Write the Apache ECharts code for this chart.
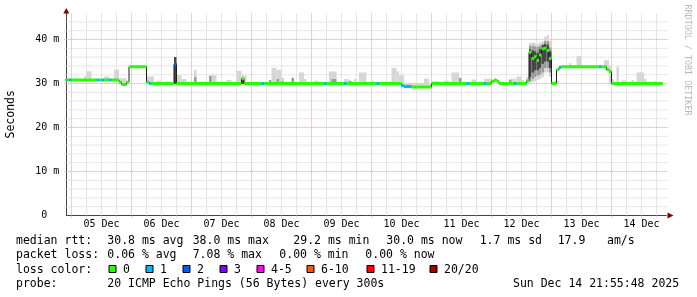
<!DOCTYPE html>
<html><head><meta charset="utf-8">
<script src="https://cdn.jsdelivr.net/npm/echarts@6/dist/echarts.min.js"></script>
<style>html,body{margin:0;padding:0;background:#fff}#c{width:697px;height:297px}</style>
</head><body><div id="c"></div>
<script>
// ---- data (times are December 2025, "MM-DD HH:MM[:SS]") ----
const graphStart = "12-04 21:55:48";
const graphEnd = "12-14 21:55:48";
const dataEnd = "12-14 20:30";
const dayLabels = ["05 Dec","06 Dec","07 Dec","08 Dec","09 Dec","10 Dec","11 Dec","12 Dec","13 Dec","14 Dec"];
const dayLabelTimes = ["12-05 12:00","12-06 12:00","12-07 12:00","12-08 12:00","12-09 12:00","12-10 12:00","12-11 12:00","12-12 12:00","12-13 12:00","12-14 12:00"];
const yMax = 46;
const yInterval = 10;
const lossColors = ['#26ff00','#00b8ff','#0059ff','#7e00ff','#ff00ff','#ff5500','#ff0000','#a10000'];
const lossLabels = ['0','1','2','3','4-5','6-10','11-19','20/20'];
// median rtt runs: [start, ms, loss class index]
const medianRuns = [
 ["12-04 21:00",30.8,0],["12-04 23:00",30.8,1],["12-05 00:00",30.8,0],["12-05 10:00",30.8,1],
 ["12-05 11:00",30.8,0],["12-05 12:00",30.8,1],["12-05 13:00",30.8,0],["12-05 15:00",30.8,1],
 ["12-05 16:00",30.8,0],["12-05 19:00",30.3,0],["12-05 20:00",29.8,0],["12-05 22:00",30.3,0],
 ["12-05 23:00",33.8,0],["12-06 06:00",30.3,0],["12-06 07:00",30.0,1],["12-06 08:00",30.0,0],
 ["12-06 17:00",34.4,2],["12-06 18:00",30.0,0],["12-07 20:00",31.1,0],["12-07 21:00",30.0,0],
 ["12-08 04:00",30.0,1],["12-08 05:00",30.0,0],["12-09 05:00",30.0,1],["12-09 06:00",30.0,0],
 ["12-09 13:00",30.0,1],["12-09 14:00",30.0,0],["12-10 02:00",30.0,1],["12-10 03:00",30.0,0],
 ["12-10 12:00",29.5,1],["12-10 13:00",29.3,1],["12-10 16:00",29.2,0],["12-11 00:00",30.0,0],
 ["12-11 14:00",30.0,1],["12-11 15:00",30.0,0],["12-11 21:00",30.0,1],["12-11 22:00",30.0,0],
 ["12-12 00:00",30.5,0],["12-12 01:00",30.8,0],["12-12 02:00",30.5,0],["12-12 03:00",30.0,0],
 ["12-12 09:00",30.0,1],["12-12 10:00",30.0,0],["12-12 14:00",30.6,0],["12-12 15:00",37.1,0],
 ["12-12 16:00",35.7,0],["12-12 17:00",36.1,0],["12-12 18:00",35.3,0],["12-12 19:00",36.5,0],
 ["12-12 20:00",37.9,0],["12-12 21:00",38.0,0],["12-12 22:00",37.5,0],["12-12 23:00",35.7,0],
 ["12-13 00:00",30.0,0],["12-13 02:00",33.1,0],["12-13 03:00",33.7,1],["12-13 04:00",33.8,0],
 ["12-13 19:00",33.8,1],["12-13 20:00",33.8,0],["12-13 22:00",33.1,0],["12-13 23:00",32.7,0],
 ["12-14 00:00",30.0,0]
];
// smoke: [start, hours, low ms, high ms, shade 0=light 1=mid 2=dark]
const smoke = [
 ["12-04 23:00",2,30.8,31.1,0],["12-05 05:00",1,30.8,31.7,0],["12-05 06:00",2,30.8,32.8,0],
 ["12-05 13:00",2,30.8,31.6,0],["12-05 17:00",2,30.8,33.2,0],["12-05 19:00",3,29.9,31.2,0],
 ["12-06 03:00",2,33.8,34.2,0],["12-06 06:00",3,30.0,31.6,0],["12-06 10:00",2,30.0,30.6,0],
 ["12-06 17:00",1,29.9,36.0,2],["12-06 18:00",2,30.0,31.9,0],["12-06 20:00",2,30.0,31.0,0],
 ["12-07 01:00",1,30.0,33.1,0],["12-07 01:00",1,30.0,31.5,1],["12-07 07:00",3,30.0,31.9,0],
 ["12-07 07:00",1,30.0,31.7,1],["12-07 14:00",2,30.0,30.8,0],["12-07 18:00",2,30.0,32.9,0],
 ["12-07 20:00",2,30.0,31.9,0],["12-07 20:00",1,29.9,30.8,2],["12-08 07:00",1,30.0,30.8,1],
 ["12-08 08:00",2,30.0,33.6,0],["12-08 10:00",2,30.0,33.1,0],["12-08 10:00",1,30.0,31.0,1],
 ["12-08 12:00",1,30.0,31.3,0],["12-08 12:00",1,30.0,30.5,1],["12-08 16:00",1,30.0,31.3,1],
 ["12-08 19:00",2,30.0,32.5,0],["12-08 21:00",1,30.0,31.0,0],["12-09 01:00",2,30.0,30.6,0],
 ["12-09 07:00",3,30.0,32.7,0],["12-09 08:00",2,30.0,31.0,1],["12-09 13:00",2,30.0,31.0,0],
 ["12-09 15:00",1,30.0,30.6,1],["12-09 17:00",1,30.0,31.0,0],["12-09 19:00",3,30.0,32.5,0],
 ["12-10 00:00",1,30.0,30.6,0],["12-10 08:00",2,30.0,33.6,0],["12-10 10:00",1,30.0,32.8,0],
 ["12-10 11:00",2,29.5,31.9,0],["12-10 12:00",12,29.2,30.0,0],["12-10 21:00",2,29.3,31.1,0],
 ["12-11 00:00",3,30.0,30.5,0],["12-11 05:00",2,30.0,30.6,0],["12-11 08:00",3,30.0,32.5,0],
 ["12-11 11:00",1,30.0,31.3,1],["12-11 16:00",2,30.0,30.9,0],["12-11 21:00",3,30.0,31.1,0],
 ["12-12 07:00",3,30.0,31.1,0],["12-12 07:00",1,30.0,30.8,1],["12-12 10:00",2,30.0,31.6,0],
 ["12-12 12:00",1,30.0,30.8,0],["12-12 14:00",1,30.0,31.5,0],
 ["12-12 15:00",1,30.0,39.2,0],["12-12 15:00",1,30.5,38.6,1],["12-12 15:00",1,31.5,37.8,2],
 ["12-12 16:00",1,30.3,39.3,0],["12-12 16:00",1,31.0,38.6,1],["12-12 16:00",1,32.5,37.5,2],
 ["12-12 17:00",1,30.5,39.2,0],["12-12 17:00",1,31.5,38.4,1],["12-12 17:00",1,33.0,37.3,2],
 ["12-12 18:00",1,30.8,39.0,0],["12-12 18:00",1,31.8,38.3,1],["12-12 18:00",1,33.0,37.0,2],
 ["12-12 19:00",1,31.0,39.3,0],["12-12 19:00",1,32.0,38.5,1],["12-12 19:00",1,33.5,37.8,2],
 ["12-12 20:00",1,31.5,39.6,0],["12-12 20:00",1,32.5,39.0,1],["12-12 20:00",1,34.5,38.7,2],
 ["12-12 21:00",1,32.5,40.6,0],["12-12 21:00",1,33.5,39.6,1],["12-12 21:00",1,35.0,39.0,2],
 ["12-12 22:00",1,32.5,41.0,0],["12-12 22:00",1,33.5,39.6,1],["12-12 22:00",1,35.0,38.8,2],
 ["12-12 23:00",1,31.5,39.6,0],["12-12 23:00",1,32.5,38.2,1],["12-12 23:00",1,33.5,37.3,2],
 ["12-13 01:00",2,30.0,30.6,0],["12-13 07:00",1,33.8,34.6,0],["12-13 10:00",2,33.8,36.2,0],
 ["12-13 21:00",2,33.0,35.3,0],["12-13 23:00",1,30.0,34.0,0],["12-14 00:00",1,30.0,31.0,0],
 ["12-14 02:00",1,30.0,33.8,0],["12-14 04:00",2,30.0,30.7,0],["12-14 08:00",1,30.0,30.8,0],
 ["12-14 10:00",3,30.0,32.5,0],["12-14 13:00",1,30.0,31.0,0],["12-14 17:00",1,30.0,30.5,0]
];
const statsLine1 = [["median rtt:",16],["30.8 ms avg",107.3],["38.0 ms max",192.7],["29.2 ms min",293.3],["30.0 ms now",386.3],["1.7 ms sd",479.7],["17.9",557.7],["am/s",607]];
const statsLine2 = [["packet loss:",16],["0.06 % avg",107.3],["7.08 % max",192.7],["0.00 % min",279.3],["0.00 % now",365.3]];
const probeLine = [["probe:",16],["20 ICMP Echo Pings (56 Bytes) every 300s",107.3],["Sun Dec 14 21:55:48 2025",513]];
const lossBoxX = [108.5,145.5,182.5,219.5,256.5,306.5,366.5,429.5];

// ---- helpers ----
function toH(s){ // hours since Dec 4 00:00
  const m = s.match(/(\d+)-(\d+) (\d+):(\d+)(?::(\d+))?/);
  return (parseInt(m[2])-4)*24 + parseInt(m[3]) + parseInt(m[4])/60 + (m[5]?parseInt(m[5])/3600:0);
}
const H0 = toH(graphStart), H1 = toH(graphEnd), HE = toH(dataEnd);
const FONT = '"DejaVu Sans Mono", monospace';
const shadeColors = ['#d6d6d6','#9c9c9c','#474747'];
const minorC = '#cdcdcd', majorC = '#d4a2a2';

const runData = medianRuns.map((r,i)=>[toH(r[0]), i+1<medianRuns.length?toH(medianRuns[i+1][0]):HE, r[1], r[2]]);
const stepData = medianRuns.map(r=>[toH(r[0]), r[1]]);
stepData.push([HE, medianRuns[medianRuns.length-1][1]]);
const smokeData = smoke.map(s=>[toH(s[0]), toH(s[0])+s[1], s[2], s[3], s[4]]);
const vGrid = []; for (let h=Math.ceil(H0/6)*6; h<H1; h+=6) vGrid.push([h,0,h%24===0?1:0]);
const hGrid = []; for (let v=2; v<yMax; v+=2) hGrid.push([H0,v,v%yInterval===0?1:0]);
const labelData = dayLabelTimes.map((t,i)=>[toH(t),0,i]);

const chart = echarts.init(document.getElementById('c'), null, {renderer:'canvas'});
const graphics = [];
function addText(t,x,y,opt){ graphics.push(Object.assign({type:'text', x:x, y:y, silent:true, style:{text:t, font:'11.5px '+FONT, fill:'#000', verticalAlign:'middle'}}, opt||{})); }
statsLine1.forEach(p=>addText(p[0],p[1],241.3));
statsLine2.forEach(p=>addText(p[0],p[1],255.5));
addText("loss color:",16,269.7);
lossLabels.forEach((l,i)=>{
  graphics.push({type:'rect', silent:true, shape:{x:lossBoxX[i]+0.5, y:265.5, width:7, height:7}, style:{fill:lossColors[i], stroke:'#000', lineWidth:1}});
  addText(l, lossBoxX[i]+14.5, 269.7);
});
probeLine.forEach(p=>addText(p[0],p[1],283.9));
graphics.push({type:'text', x:687, y:60, rotation:-Math.PI/2, silent:true, style:{text:'RRDTOOL / TOBI OETIKER', font:'8.4px '+FONT, fill:'#b8b8b8', align:'center', verticalAlign:'middle'}});
graphics.push({type:'polygon', silent:true, shape:{points:[[63.3,13.5],[69.3,13.5],[66.3,8]]}, style:{fill:'#800000'}});
graphics.push({type:'polygon', silent:true, shape:{points:[[667.5,212.5],[667.5,218.5],[673.5,215.5]]}, style:{fill:'#800000'}});

chart.setOption({
  animation:false,
  backgroundColor:'#fff',
  grid:{left:66.325, top:13.1, width:600, height:202.4, containLabel:false, outerBoundsMode:'none'},
  xAxis:{type:'value', min:H0, max:H1, axisLine:{show:true, onZero:false, lineStyle:{color:'#444', width:1}},
    axisTick:{show:false}, axisLabel:{show:false}, splitLine:{show:false}},
  yAxis:{type:'value', min:0, max:yMax, interval:yInterval,
    axisLine:{show:true, lineStyle:{color:'#444', width:1}}, axisTick:{show:false}, splitLine:{show:false},
    axisLabel:{fontFamily:FONT, fontSize:10, color:'#000', margin:7, showMaxLabel:false,
      formatter:v=> v===0 ? '0  ' : v+' m'},
    name:'Seconds', nameLocation:'middle', nameGap:49, nameRotate:90,
    nameTextStyle:{fontFamily:FONT, fontSize:11.5, color:'#000'}},
  graphic:graphics,
  series:[
    {type:'custom', silent:true, z:1, clip:false, data:vGrid, renderItem:(p,api)=>{
      const a=api.coord([api.value(0),0]), b=api.coord([api.value(0),yMax]);
      return {type:'line', shape:{x1:a[0],y1:a[1]+2,x2:b[0],y2:b[1]}, style:{stroke:api.value(2)?majorC:minorC, lineWidth:1, lineDash:[1,1]}};
    }},
    {type:'custom', silent:true, z:1, clip:false, data:hGrid, renderItem:(p,api)=>{
      const a=api.coord([H0,api.value(1)]), b=api.coord([H1,api.value(1)]);
      return {type:'line', shape:{x1:a[0]-2,y1:a[1],x2:b[0]+2,y2:b[1]}, style:{stroke:api.value(2)?majorC:minorC, lineWidth:1, lineDash:[1,1]}};
    }},
    {type:'custom', silent:true, z:2, clip:true, data:smokeData, renderItem:(p,api)=>{
      const a=api.coord([api.value(0),api.value(3)]), b=api.coord([api.value(1),api.value(2)]);
      return {type:'rect', shape:{x:a[0],y:a[1],width:b[0]-a[0],height:b[1]-a[1]}, style:{fill:shadeColors[api.value(4)]}};
    }},
    {type:'line', silent:true, z:3, step:'end', data:stepData, showSymbol:false, symbol:'none', clip:true,
      lineStyle:{color:'#1c1c1c', width:1}},
    {type:'custom', silent:true, z:4, clip:true, data:runData, renderItem:(p,api)=>{
      const a=api.coord([api.value(0),api.value(2)]), b=api.coord([api.value(1),api.value(2)]);
      return {type:'rect', shape:{x:a[0],y:a[1]-1.5,width:b[0]-a[0],height:3}, style:{fill:lossColors[api.value(3)]}};
    }},
    {type:'custom', silent:true, z:5, clip:false, data:labelData, renderItem:(p,api)=>{
      const a=api.coord([api.value(0),0]);
      return {type:'text', x:a[0], y:a[1]+9, style:{text:dayLabels[api.value(2)], font:'10px '+FONT, fill:'#000', align:'center', verticalAlign:'middle'}};
    }}
  ]
});
</script></body></html>
